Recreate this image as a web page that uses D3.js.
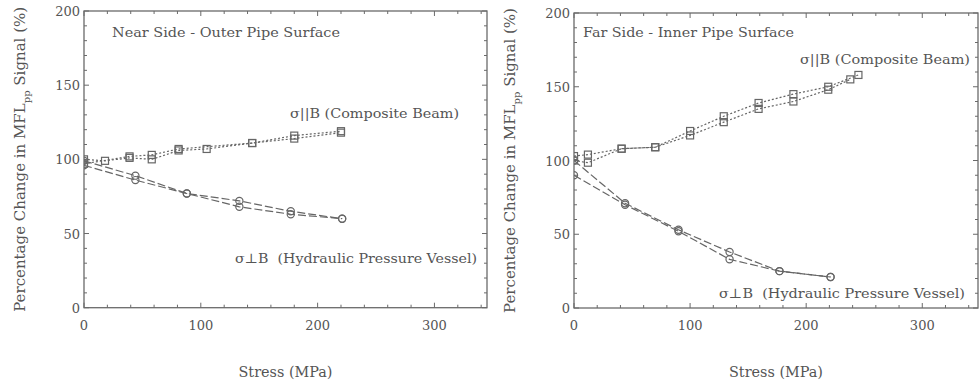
<!DOCTYPE html>
<html><head><meta charset="utf-8">
<script src="https://cdn.jsdelivr.net/npm/d3@7"></script>
<style>body{margin:0;background:#fff}svg{display:block}
svg text{font-family:"DejaVu Serif"}
</style>
</head><body>
<svg id="c" width="980" height="387"></svg>
<script>
// ---- data ----
const xTicks = [0, 100, 200, 300];
const yTicks = [0, 50, 100, 150, 200];

const nearBeamX1 = [0, 18, 39, 58, 81, 105, 144, 180, 220];
const nearBeamY1 = [100, 99, 101, 100, 106, 107, 111, 114, 118];
const nearBeamX2 = [0, 39, 58, 81, 144, 180, 220];
const nearBeamY2 = [97, 102, 103, 107, 111, 116, 119];
const nearVesselX1 = [0, 44, 88, 133, 177, 221];
const nearVesselY1 = [99, 89, 77, 72, 65, 60];
const nearVesselX2 = [0, 44, 88, 133, 177, 221];
const nearVesselY2 = [96, 86, 77, 68, 63, 60];

const farBeamX1 = [0, 12, 41, 70, 100, 129, 159, 189, 219, 245];
const farBeamY1 = [103, 104, 108, 109, 120, 130, 139, 145, 150, 158];
const farBeamX2 = [0, 12, 41, 70, 100, 129, 159, 189, 219, 238];
const farBeamY2 = [100, 98.5, 108, 109, 117, 126, 135, 140, 148, 155];
const farVesselX1 = [0, 44, 90, 134, 177, 221];
const farVesselY1 = [100, 71, 53, 38, 25, 21];
const farVesselX2 = [0, 44, 90, 134, 177, 221];
const farVesselY2 = [90, 70, 52, 33, 25, 21];

const panels = [
  {x0:84, x1:487, y0:307.7, y1:11, xmax:345, ylabX:25,
   title:"Near Side - Outer Pipe Surface", tx:112, ty:37, tw:228,
   beamLab:[290,118,169], vesLab:[235,263,242],
   beams:[[nearBeamX1,nearBeamY1],[nearBeamX2,nearBeamY2]],
   vessels:[[nearVesselX1,nearVesselY1],[nearVesselX2,nearVesselY2]]},
  {x0:574, x1:978, y0:308, y1:13, xmax:348, ylabX:515,
   title:"Far Side - Inner Pipe Surface", tx:583, ty:37, tw:211,
   beamLab:[800,64,170], vesLab:[719,298,246],
   beams:[[farBeamX1,farBeamY1],[farBeamX2,farBeamY2]],
   vessels:[[farVesselX1,farVesselY1],[farVesselX2,farVesselY2]]}
];

const svg = d3.select("#c");
const txt = "#555", ax = "#6a6a6a", mk = "#666";
const annSize = 13.5;

panels.forEach((p, i) => {
  const x = d3.scaleLinear().domain([0, p.xmax]).range([p.x0, p.x1]);
  const y = d3.scaleLinear().domain([0, 200]).range([p.y0, p.y1]);
  const g = svg.append("g");
  const cid = "clip" + i;
  svg.append("clipPath").attr("id", cid).append("rect")
    .attr("x", p.x0).attr("y", p.y1).attr("width", p.x1 - p.x0).attr("height", p.y0 - p.y1);

  g.append("rect").attr("x", p.x0).attr("y", p.y1).attr("width", p.x1 - p.x0).attr("height", p.y0 - p.y1)
    .attr("fill", "none").attr("stroke", ax).attr("stroke-width", 1.3);

  const xMinor = d3.range(0, p.xmax + 0.1, 20);
  const yMinor = d3.range(0, 200.1, 10);
  const tg = g.append("g").attr("stroke", ax).attr("stroke-width", 1);
  xMinor.forEach(v => {
    const L = v % 100 === 0 ? 5 : 3;
    tg.append("line").attr("x1", x(v)).attr("x2", x(v)).attr("y1", p.y0).attr("y2", p.y0 - L);
    tg.append("line").attr("x1", x(v)).attr("x2", x(v)).attr("y1", p.y1).attr("y2", p.y1 + L);
  });
  yMinor.forEach(v => {
    const L = v % 50 === 0 ? 5 : 3;
    tg.append("line").attr("y1", y(v)).attr("y2", y(v)).attr("x1", p.x0).attr("x2", p.x0 + L);
    tg.append("line").attr("y1", y(v)).attr("y2", y(v)).attr("x1", p.x1).attr("x2", p.x1 - L);
  });

  g.selectAll(".xl").data(xTicks).join("text")
    .attr("x", d => x(d)).attr("y", p.y0 + 22).attr("text-anchor", "middle")
    .attr("font-size", 13).attr("fill", txt).text(d => d);
  g.selectAll(".yl").data(yTicks).join("text")
    .attr("x", p.x0 - 4).attr("y", d => y(d) + 5).attr("text-anchor", "end")
    .attr("font-size", 13).attr("fill", txt).text(d => d);

  g.append("text").attr("x", (p.x0 + p.x1) / 2).attr("y", 377).attr("text-anchor", "middle")
    .attr("font-size", 15).attr("fill", txt).attr("textLength", 94).attr("lengthAdjust", "spacingAndGlyphs")
    .text("Stress (MPa)");
  const yl = g.append("text").attr("transform", `translate(${p.ylabX},${(p.y0 + p.y1) / 2}) rotate(-90)`)
    .attr("text-anchor", "middle").attr("font-size", 15).attr("fill", txt);
  yl.append("tspan").text("Percentage Change in MFL");
  yl.append("tspan").attr("font-size", 10).attr("dy", 5).text("pp");
  yl.append("tspan").attr("dy", -5).text(" Signal (%)");

  g.append("text").attr("x", p.tx).attr("y", p.ty).attr("font-size", annSize)
    .attr("textLength", p.tw).attr("lengthAdjust", "spacingAndGlyphs")
    .attr("fill", txt).text(p.title);
  g.append("text").attr("x", p.beamLab[0]).attr("y", p.beamLab[1]).attr("font-size", annSize)
    .attr("textLength", p.beamLab[2]).attr("lengthAdjust", "spacingAndGlyphs")
    .attr("fill", txt).text("σ||B (Composite Beam)");
  g.append("text").attr("x", p.vesLab[0]).attr("y", p.vesLab[1]).attr("font-size", annSize)
    .attr("textLength", p.vesLab[2]).attr("lengthAdjust", "spacingAndGlyphs")
    .attr("fill", txt).style("white-space", "pre").text("σ⊥B  (Hydraulic Pressure Vessel)");

  const plot = g.append("g").attr("clip-path", `url(#${cid})`);
  const line = d3.line().x(d => x(d[0])).y(d => y(d[1]));

  p.vessels.forEach(([xs, ys]) => {
    const pts = xs.map((v, k) => [v, ys[k]]);
    plot.append("path").datum(pts).attr("d", line).attr("fill", "none")
      .attr("stroke", mk).attr("stroke-width", 1.2).attr("stroke-dasharray", "8,3");
    plot.selectAll(null).data(pts).join("circle")
      .attr("cx", d => x(d[0])).attr("cy", d => y(d[1])).attr("r", 3.6)
      .attr("fill", "none").attr("stroke", mk).attr("stroke-width", 1.2);
  });
  p.beams.forEach(([xs, ys]) => {
    const pts = xs.map((v, k) => [v, ys[k]]);
    plot.append("path").datum(pts).attr("d", line).attr("fill", "none")
      .attr("stroke", mk).attr("stroke-width", 1.2).attr("stroke-dasharray", "2,2");
    plot.selectAll(null).data(pts).join("rect")
      .attr("x", d => x(d[0]) - 3.5).attr("y", d => y(d[1]) - 3.5).attr("width", 7).attr("height", 7)
      .attr("fill", "none").attr("stroke", mk).attr("stroke-width", 1.2);
  });
});
</script>
</body></html>
